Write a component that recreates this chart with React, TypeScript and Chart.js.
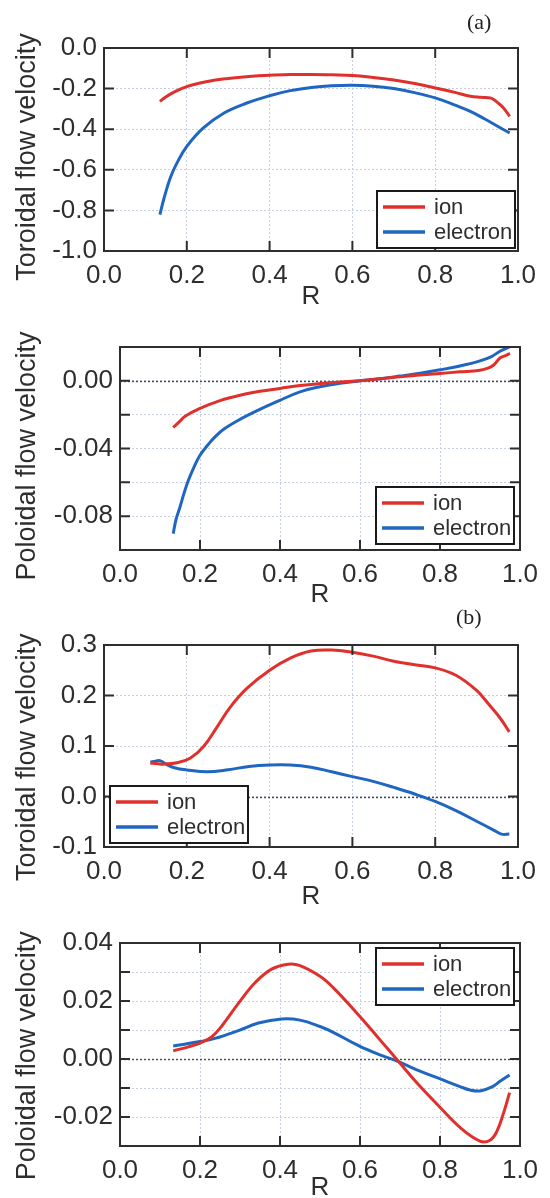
import React, { useEffect, useRef } from 'react';
import { Chart, registerables } from 'chart.js';

Chart.register(...registerables);

// ---------- data ----------
const xTicksR = [0, 0.2, 0.4, 0.6, 0.8, 1.0];
const seriesNames = ['ion', 'electron'];

// (a) toroidal
const ionTorR_a = [0.135, 0.15, 0.168, 0.2, 0.25, 0.3, 0.35, 0.4, 0.45, 0.5, 0.55, 0.6, 0.65, 0.7, 0.75, 0.8, 0.85, 0.885, 0.91, 0.935, 0.95, 0.965, 0.98];
const ionTorV_a = [-0.263, -0.24, -0.219, -0.19, -0.165, -0.15, -0.14, -0.134, -0.131, -0.13, -0.132, -0.135, -0.145, -0.158, -0.175, -0.197, -0.22, -0.238, -0.243, -0.247, -0.268, -0.295, -0.337];
const eleTorR_a = [0.135, 0.145, 0.16, 0.176, 0.2, 0.24, 0.29, 0.345, 0.4, 0.45, 0.5, 0.55, 0.6, 0.65, 0.7, 0.75, 0.8, 0.85, 0.885, 0.92, 0.958, 0.98];
const eleTorV_a = [-0.821, -0.74, -0.64, -0.567, -0.485, -0.394, -0.32, -0.271, -0.235, -0.21, -0.195, -0.186, -0.183, -0.188, -0.2, -0.22, -0.246, -0.283, -0.312, -0.35, -0.394, -0.419];

// (a) poloidal
const ionPolR_a = [0.133, 0.15, 0.163, 0.2, 0.25, 0.3, 0.35, 0.4, 0.45, 0.5, 0.55, 0.6, 0.65, 0.7, 0.75, 0.8, 0.85, 0.9, 0.92, 0.935, 0.95, 0.965, 0.975];
const ionPolV_a = [-0.0276, -0.0238, -0.0209, -0.0163, -0.0117, -0.0085, -0.0062, -0.0045, -0.0028, -0.0016, -0.0007, 0, 0.0012, 0.0024, 0.0034, 0.0044, 0.0053, 0.0063, 0.0075, 0.0095, 0.0135, 0.015, 0.0163];
const elePolR_a = [0.133, 0.14, 0.15, 0.16, 0.171, 0.185, 0.2, 0.22, 0.2375, 0.26, 0.296, 0.346, 0.4, 0.45, 0.5, 0.55, 0.6, 0.65, 0.7, 0.75, 0.8, 0.85, 0.9, 0.93, 0.95, 0.975];
const elePolV_a = [-0.0903, -0.082, -0.0746, -0.0665, -0.0588, -0.051, -0.044, -0.0378, -0.0331, -0.0285, -0.0233, -0.0173, -0.0115, -0.0065, -0.0035, -0.0015, 0, 0.0012, 0.0028, 0.0045, 0.0065, 0.0088, 0.0118, 0.0145, 0.0175, 0.0202];

// (b) toroidal
const ionTorR_b = [0.112, 0.13, 0.143, 0.176, 0.208, 0.24, 0.2725, 0.305, 0.345, 0.4, 0.45, 0.5, 0.55, 0.6, 0.65, 0.7, 0.75, 0.8, 0.85, 0.9, 0.93, 0.958, 0.979];
const ionTorV_b = [0.066, 0.065, 0.064, 0.067, 0.0756, 0.0984, 0.137, 0.177, 0.214, 0.25, 0.274, 0.288, 0.29, 0.2855, 0.278, 0.268, 0.261, 0.2547, 0.24, 0.21, 0.182, 0.154, 0.128];
const eleTorR_b = [0.112, 0.125, 0.135, 0.15, 0.17, 0.2, 0.25, 0.3, 0.35, 0.4, 0.45, 0.5, 0.55, 0.6, 0.65, 0.7, 0.75, 0.8, 0.85, 0.9, 0.94, 0.96, 0.979];
const eleTorV_b = [0.068, 0.07, 0.071, 0.064, 0.057, 0.0526, 0.049, 0.053, 0.0595, 0.0624, 0.0624, 0.058, 0.049, 0.0394, 0.03, 0.018, 0.005, -0.0098, -0.028, -0.049, -0.066, -0.0745, -0.0745];

// (b) poloidal
const ionPolR_b = [0.133, 0.171, 0.2, 0.229, 0.254, 0.296, 0.3375, 0.379, 0.421, 0.45, 0.5, 0.533, 0.5975, 0.65, 0.696, 0.742, 0.7975, 0.85, 0.9, 0.925, 0.942, 0.958, 0.974];
const ionPolV_b = [0.0028, 0.0042, 0.0055, 0.0076, 0.0113, 0.0192, 0.0263, 0.031, 0.0327, 0.0322, 0.0285, 0.0246, 0.015, 0.0066, -0.0008, -0.0082, -0.0163, -0.0236, -0.0283, -0.028, -0.025, -0.019, -0.0116];
const elePolR_b = [0.133, 0.2, 0.2375, 0.296, 0.346, 0.404, 0.45, 0.5, 0.533, 0.5975, 0.65, 0.696, 0.75, 0.7975, 0.85, 0.875, 0.9, 0.93, 0.95, 0.974];
const elePolV_b = [0.0045, 0.006, 0.0071, 0.0098, 0.0124, 0.0138, 0.0134, 0.0112, 0.0092, 0.0045, 0.0014, -0.0009, -0.0042, -0.0067, -0.0095, -0.0107, -0.011, -0.0096, -0.0077, -0.0055];

// ---------- styling ----------
const FONT = "'Liberation Sans', Arial, Helvetica, sans-serif";
const RED = '#e0302c';
const BLUE = '#1f66c2';
const INK = '#2e2e2e';
const GRID = '#c6cfe2';
const CH = 312;

type PanelCfg = {
  top: number; L: number; R: number; T: number; B: number;
  yMin: number; yMax: number; step: number; mode: 'f1' | 'every4' | 'every2';
  yTitle: string; zero: boolean; legend: { x: number; y: number };
  xTitlePad: number;
  ion: [number[], number[]]; ele: [number[], number[]];
};

const panels: PanelCfg[] = [
  { top: 0, L: 104, R: 518, T: 48, B: 251, yMin: -1, yMax: 0, step: 0.2, mode: 'f1', yTitle: 'Toroidal flow velocity  ', zero: false, legend: { x: 377, y: 191 }, xTitlePad: 0, ion: [ionTorR_a, ionTorV_a], ele: [eleTorR_a, eleTorV_a] },
  { top: 300, L: 120, R: 520, T: 47, B: 250, yMin: -0.1, yMax: 0.02, step: 0.02, mode: 'every4', yTitle: 'Poloidal flow velocity  ', zero: true, legend: { x: 376, y: 187 }, xTitlePad: 2, ion: [ionPolR_a, ionPolV_a], ele: [elePolR_a, elePolV_a] },
  { top: 600, L: 104, R: 518, T: 45, B: 247, yMin: -0.1, yMax: 0.3, step: 0.1, mode: 'f1', yTitle: 'Toroidal flow velocity   ', zero: true, legend: { x: 110, y: 186 }, xTitlePad: 0, ion: [ionTorR_b, ionTorV_b], ele: [eleTorR_b, eleTorV_b] },
  { top: 900, L: 120, R: 520, T: 43, B: 246, yMin: -0.03, yMax: 0.04, step: 0.01, mode: 'every2', yTitle: 'Poloidal flow velocity   ', zero: true, legend: { x: 376, y: 48 }, xTitlePad: 9, ion: [ionPolR_b, ionPolV_b], ele: [elePolR_b, elePolV_b] },
];

function fmtY(mode: string, v: number): string {
  if (mode === 'f1') {
    const r = Math.round(v * 10) / 10;
    return (r === 0 ? 0 : r).toFixed(1);
  }
  const k = Math.round(v * 100);
  const every = mode === 'every4' ? 4 : 2;
  if (k % every !== 0) return '';
  return (k === 0 ? 0 : k / 100).toFixed(2);
}

const framePlugin = {
  id: 'frame',
  beforeDatasetsDraw(chart: any, _a: any, opts: any) {
    if (!opts.zero) return;
    const { ctx, chartArea: a, scales } = chart;
    const y = Math.round(scales.y.getPixelForValue(0)) + 0.5;
    ctx.save();
    ctx.strokeStyle = '#4a4a4a';
    ctx.lineWidth = 1.4;
    ctx.setLineDash([2, 2]);
    ctx.beginPath();
    ctx.moveTo(a.left, y);
    ctx.lineTo(a.right, y);
    ctx.stroke();
    ctx.restore();
  },
  afterDatasetsDraw(chart: any, _a: any, opts: any) {
    const { ctx, chartArea: a, scales } = chart;
    ctx.save();
    ctx.strokeStyle = INK;
    ctx.lineWidth = 2;
    ctx.setLineDash([]);
    const tl = 10;
    ctx.beginPath();
    scales.x.ticks.forEach((t: any) => {
      const x = scales.x.getPixelForValue(t.value);
      ctx.moveTo(x, a.top); ctx.lineTo(x, a.top + tl);
      ctx.moveTo(x, a.bottom); ctx.lineTo(x, a.bottom - tl);
    });
    scales.y.ticks.forEach((t: any) => {
      const y = scales.y.getPixelForValue(t.value);
      ctx.moveTo(a.left, y); ctx.lineTo(a.left + tl, y);
      ctx.moveTo(a.right, y); ctx.lineTo(a.right - tl, y);
    });
    ctx.stroke();
    ctx.strokeRect(a.left, a.top, a.right - a.left, a.bottom - a.top);

    // legend
    const lg = opts.legend;
    const w = 138, h = 57;
    ctx.fillStyle = '#ffffff';
    ctx.fillRect(lg.x, lg.y, w, h);
    ctx.strokeStyle = '#1a1a1a';
    ctx.lineWidth = 2;
    ctx.strokeRect(lg.x, lg.y, w, h);
    chart.data.datasets.forEach((ds: any, i: number) => {
      const ry = lg.y + 16 + i * 25;
      ctx.strokeStyle = ds.borderColor;
      ctx.lineWidth = 3.5;
      ctx.beginPath();
      ctx.moveTo(lg.x + 6, ry);
      ctx.lineTo(lg.x + 48, ry);
      ctx.stroke();
      ctx.fillStyle = INK;
      ctx.font = `22px ${FONT}`;
      ctx.textAlign = 'left';
      ctx.textBaseline = 'middle';
      ctx.fillText(ds.label, lg.x + 57, ry + 1);
    });
    ctx.restore();
  },
};

function Panel({ p }: { p: PanelCfg }) {
  const ref = useRef<HTMLCanvasElement>(null);
  useEffect(() => {
    const toPts = (xs: number[], ys: number[]) => xs.map((x, i) => ({ x, y: ys[i] }));
    const chart = new Chart(ref.current as HTMLCanvasElement, {
      type: 'line',
      data: {
        datasets: [
          { label: seriesNames[0], data: toPts(p.ion[0], p.ion[1]), borderColor: RED, borderWidth: 3, pointRadius: 0, tension: 0.4, fill: false },
          { label: seriesNames[1], data: toPts(p.ele[0], p.ele[1]), borderColor: BLUE, borderWidth: 3, pointRadius: 0, tension: 0.4, fill: false },
        ],
      } as any,
      options: {
        animation: false,
        responsive: false,
        devicePixelRatio: 1,
        layout: { padding: { left: 0, top: p.T, right: 550 - p.R, bottom: 0 } },
        plugins: {
          legend: { display: false },
          tooltip: { enabled: false },
          frame: { zero: p.zero, legend: p.legend },
        } as any,
        scales: {
          x: {
            type: 'linear',
            min: 0,
            max: 1,
            afterBuildTicks: (s: any) => { s.ticks = xTicksR.map((v) => ({ value: v })); },
            afterFit: (s: any) => { s.height = CH - p.B; },
            ticks: {
              autoSkip: false,
              maxRotation: 0,
              padding: 9,
              color: INK,
              font: { family: FONT, size: 26 },
              callback: (v: any) => Number(v).toFixed(1),
            },
            grid: { color: GRID, lineWidth: 1, drawTicks: false },
            border: { display: false, dash: [2, 2] },
            title: { display: true, text: 'R', color: INK, font: { family: FONT, size: 26 }, padding: { top: 0, bottom: p.xTitlePad } },
          },
          y: {
            type: 'linear',
            min: p.yMin,
            max: p.yMax,
            afterFit: (s: any) => { s.width = p.L; },
            ticks: {
              stepSize: p.step,
              autoSkip: false,
              padding: 7,
              color: INK,
              font: { family: FONT, size: 26 },
              callback: (v: any) => fmtY(p.mode, Number(v)),
            },
            grid: { color: GRID, lineWidth: 1, drawTicks: false },
            border: { display: false, dash: [2, 2] },
            title: { display: true, text: p.yTitle, color: INK, font: { family: FONT, size: 27 }, padding: { top: 11, bottom: 0 } },
          },
        },
      } as any,
      plugins: [framePlugin as any],
    });
    return () => chart.destroy();
  }, [p]);
  return (
    <canvas
      ref={ref}
      width={550}
      height={CH}
      style={{ position: 'absolute', left: 0, top: p.top, width: 550, height: CH, display: 'block' }}
    />
  );
}

const tagStyle: React.CSSProperties = {
  position: 'absolute',
  fontFamily: "'Liberation Serif', 'Times New Roman', serif",
  fontSize: 22,
  color: '#222',
  lineHeight: '22px',
};

export default function App() {
  return (
    <div style={{ position: 'absolute', left: 0, top: 0, width: 550, height: 1198, overflow: 'hidden', background: '#fff' }}>
      {panels.map((p, i) => (
        <Panel key={i} p={p} />
      ))}
      <div style={{ ...tagStyle, left: 467, top: 11 }}>(a)</div>
      <div style={{ ...tagStyle, left: 456, top: 606 }}>(b)</div>
    </div>
  );
}
